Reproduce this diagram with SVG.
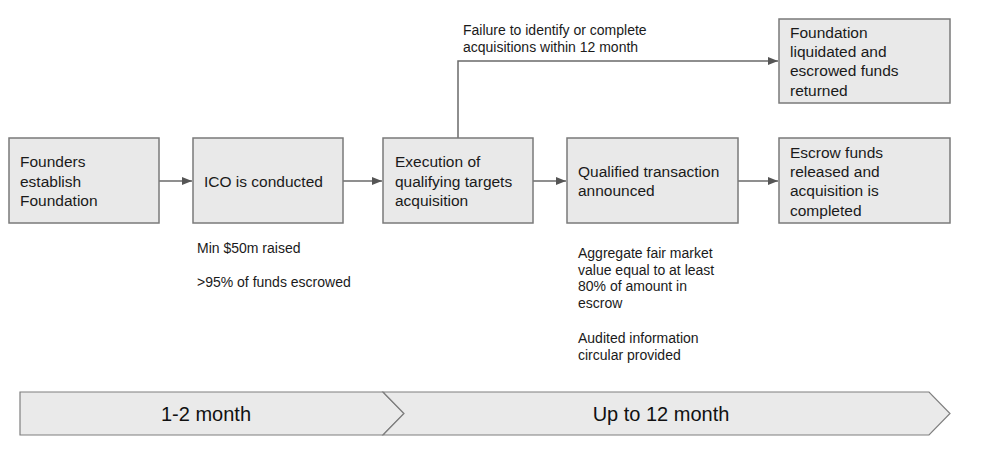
<svg xmlns="http://www.w3.org/2000/svg" width="987" height="454" viewBox="0 0 987 454">
<style>
.box{fill:#e9e9e9;stroke:#7a7a7a;stroke-width:1.5}
.t{font-family:"Liberation Sans",Arial,sans-serif;font-size:15.5px;fill:#1a1a1a}
.s{font-family:"Liberation Sans",Arial,sans-serif;font-size:14px;fill:#1a1a1a}
.c{fill:none;stroke:#6a6a6a;stroke-width:1.5}
.chev{fill:#eaeaea;stroke:#7f7f7f;stroke-width:1.2}
.tl{font-family:"Liberation Sans",Arial,sans-serif;font-size:20px;fill:#111;text-anchor:middle}
</style>
<defs>
<marker id="ah" viewBox="0 0 10 8" refX="10" refY="4" markerWidth="10" markerHeight="8" markerUnits="userSpaceOnUse" orient="auto">
<path d="M0,0 L10,4 L0,8 Z" fill="#555"/>
</marker>
</defs>
<rect width="987" height="454" fill="#fff"/>
<g id="connectors">
<line class="c" x1="159" y1="181" x2="192" y2="181" marker-end="url(#ah)"/>
<line class="c" x1="343" y1="181" x2="382" y2="181" marker-end="url(#ah)"/>
<line class="c" x1="533" y1="181" x2="566" y2="181" marker-end="url(#ah)"/>
<line class="c" x1="738" y1="181" x2="778" y2="181" marker-end="url(#ah)"/>
<polyline class="c" points="458,138 458,61 778,61" marker-end="url(#ah)"/>
<text class="s" x="463" y="35">Failure to identify or complete</text>
<text class="s" x="463" y="52">acquisitions within 12 month</text>
</g>
<g id="founders">
<rect class="box" x="9" y="138" width="150" height="85"/>
<text class="t" x="20" y="167">Founders</text>
<text class="t" x="20" y="186.5">establish</text>
<text class="t" x="20" y="206">Foundation</text>
</g>
<g id="ico">
<rect class="box" x="193" y="138" width="150" height="85"/>
<text class="t" x="204" y="187">ICO is conducted</text>
<text class="s" x="197" y="253">Min $50m raised</text>
<text class="s" x="197" y="287">&gt;95% of funds escrowed</text>
</g>
<g id="execution">
<rect class="box" x="383" y="138" width="150" height="85"/>
<text class="t" x="395" y="167">Execution of</text>
<text class="t" x="395" y="186.5">qualifying targets</text>
<text class="t" x="395" y="206">acquisition</text>
</g>
<g id="qualified">
<rect class="box" x="567" y="138" width="171" height="85"/>
<text class="t" x="578" y="177">Qualified transaction</text>
<text class="t" x="578" y="196">announced</text>
<text class="s" x="578" y="258">Aggregate fair market</text>
<text class="s" x="578" y="274.5">value equal to at least</text>
<text class="s" x="578" y="291">80% of amount in</text>
<text class="s" x="578" y="307.5">escrow</text>
<text class="s" x="578" y="343">Audited information</text>
<text class="s" x="578" y="359.5">circular provided</text>
</g>
<g id="liquidated">
<rect class="box" x="779" y="19" width="171" height="84"/>
<text class="t" x="790" y="37.5">Foundation</text>
<text class="t" x="790" y="57">liquidated and</text>
<text class="t" x="790" y="76">escrowed funds</text>
<text class="t" x="790" y="95.5">returned</text>
</g>
<g id="released">
<rect class="box" x="779" y="138" width="171" height="85"/>
<text class="t" x="790" y="157.5">Escrow funds</text>
<text class="t" x="790" y="177">released and</text>
<text class="t" x="790" y="196">acquisition is</text>
<text class="t" x="790" y="215.5">completed</text>
</g>
<g id="timeline">
<polygon class="chev" points="20,392 383,392 404,413.5 383,435 20,435"/>
<polygon class="chev" points="383,392 929,392 950,413.5 929,435 383,435 404,413.5"/>
<text class="tl" x="206" y="421">1-2 month</text>
<text class="tl" x="661" y="421">Up to 12 month</text>
</g>
</svg>
